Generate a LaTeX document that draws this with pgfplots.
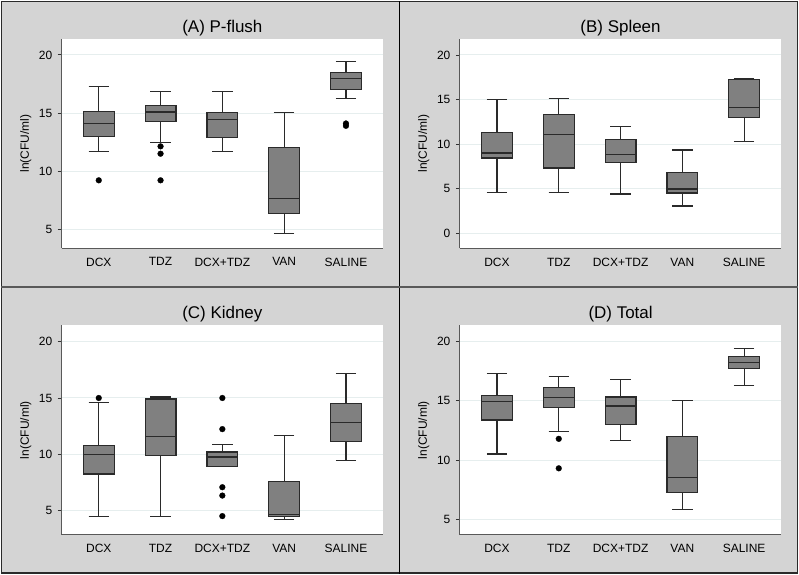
\documentclass[border=0pt]{standalone}
\usepackage{fontspec}
\setmainfont{Liberation Sans}
\usepackage{pgfplots}
\pgfplotsset{compat=1.18}
\usepgfplotslibrary{statistics}
\definecolor{bg}{HTML}{D4D4D4}
\definecolor{boxc}{HTML}{808080}
\definecolor{gridc}{HTML}{E6EEEE}
\definecolor{edge}{HTML}{2A2A2A}
\pgfplotsset{
  panel/.style={
    anchor=south west, scale only axis, width=322pt, height=210pt,
    axis background/.style={fill=white},
    xmin=0.4, xmax=5.6, xtick={1,2,3,4,5},
    xticklabels={DCX,TDZ,DCX+TDZ,VAN,SALINE},
    major x tick style={draw=none},
    axis x line*=bottom, axis y line*=left,
    axis line style={draw=black!65, line width=1pt, -},
    ytick style={draw=black!80, line width=0.9pt},
    tick align=outside, major tick length=4pt,
    ymajorgrids, grid style={color=gridc, line width=1pt},
    /pgf/number format/assume math mode=true,
    tick label style={font=\fontsize{12}{14}\selectfont},
    yticklabel style={xshift=-2pt},
    xticklabel style={yshift=-2pt},
    ylabel={ln(CFU/ml)},
    ylabel style={font=\fontsize{12}{14}\selectfont, at={(axis description cs:-0.112,0.5)}, anchor=center},
    title style={font=\fontsize{17}{20}\selectfont, at={(axis description cs:0.5,1)}, anchor=center, yshift=5pt},
    boxplot/draw direction=y,
    boxplot/box extend=0.5, boxplot/whisker extend=0.33,
    clip=false,
  },
  bx/.style={fill=boxc, draw=edge, line width=1.2pt, mark=*, mark size=2.9pt, mark options={fill=black, draw=black, line width=0.3pt}},
}
\begin{document}
\begin{tikzpicture}
\fill[bg] (0pt,0pt) rectangle (799pt,574pt);
\draw[edge, line width=1.5pt] (0.75pt,0.75pt) rectangle (798.25pt,573.25pt);
\draw[black, line width=1.4pt] (399.5pt,0pt) -- (399.5pt,574pt);
\draw[black!65, line width=1.6pt] (0pt,287pt) -- (799pt,287pt);

% (A) P-flush
\begin{axis}[panel, at={(61pt,326pt)}, ymin=3.37, ymax=21.4, ytick={5,10,15,20}, title={(A) P-flush}]
\addplot[bx, boxplot prepared={draw position=1, lower whisker=11.70, lower quartile=13.01, median=14.13, upper quartile=15.13, upper whisker=17.28}] coordinates {(0,9.21)};
\addplot[bx, boxplot prepared={draw position=2, lower whisker=12.47, lower quartile=14.30, median=15.08, upper quartile=15.68, upper whisker=16.82}] coordinates {(0,12.13) (0,11.50) (0,9.21)};
\addplot[bx, boxplot prepared={draw position=3, lower whisker=11.67, lower quartile=12.90, median=14.42, upper quartile=15.02, upper whisker=16.82}] coordinates {};
\addplot[bx, boxplot prepared={draw position=4, lower whisker=4.63, lower quartile=6.34, median=7.66, upper quartile=12.04, upper whisker=15.02}] coordinates {};
\addplot[bx, boxplot prepared={draw position=5, lower whisker=16.25, lower quartile=16.99, median=17.94, upper quartile=18.51, upper whisker=19.43}] coordinates {(0,14.10) (0,13.90)};
\end{axis}

% (B) Spleen
\begin{axis}[panel, at={(460pt,325.7pt)}, ymin=-1.68, ymax=21.8, ytick={0,5,10,15,20}, title={(B) Spleen}]
\addplot[bx, boxplot prepared={draw position=1, lower whisker=4.62, lower quartile=8.45, median=9.01, upper quartile=11.36, upper whisker=15.01}] coordinates {};
\addplot[bx, boxplot prepared={draw position=2, lower whisker=4.58, lower quartile=7.34, median=11.06, upper quartile=13.30, upper whisker=15.12}] coordinates {};
\addplot[bx, boxplot prepared={draw position=3, lower whisker=4.43, lower quartile=7.93, median=8.83, upper quartile=10.54, upper whisker=11.99}] coordinates {};
\addplot[bx, boxplot prepared={draw position=4, lower whisker=3.09, lower quartile=4.54, median=4.99, upper quartile=6.82, upper whisker=9.35}] coordinates {};
\addplot[bx, boxplot prepared={draw position=5, lower whisker=10.28, lower quartile=13.00, median=14.15, upper quartile=17.21, upper whisker=17.32}] coordinates {};
\end{axis}

% (C) Kidney
\begin{axis}[panel, at={(61pt,38.7pt)}, ymin=2.86, ymax=21.44, ytick={5,10,15,20}, title={(C) Kidney}]
\addplot[bx, boxplot prepared={draw position=1, lower whisker=4.50, lower quartile=8.26, median=10.00, upper quartile=10.82, upper whisker=14.59}] coordinates {(0,15.0)};
\addplot[bx, boxplot prepared={draw position=2, lower whisker=4.50, lower quartile=9.88, median=11.59, upper quartile=14.91, upper whisker=15.09}] coordinates {};
\addplot[bx, boxplot prepared={draw position=3, lower whisker=8.94, lower quartile=8.94, median=9.76, upper quartile=10.21, upper whisker=10.91}] coordinates {(0,15.0) (0,12.24) (0,7.09) (0,6.35) (0,4.53)};
\addplot[bx, boxplot prepared={draw position=4, lower whisker=4.24, lower quartile=4.50, median=4.68, upper quartile=7.62, upper whisker=11.65}] coordinates {};
\addplot[bx, boxplot prepared={draw position=5, lower whisker=9.44, lower quartile=11.12, median=12.82, upper quartile=14.53, upper whisker=17.15}] coordinates {};
\end{axis}

% (D) Total
\begin{axis}[panel, at={(460pt,38.7pt)}, ymin=3.72, ymax=21.34, ytick={5,10,15,20}, title={(D) Total}]
\addplot[bx, boxplot prepared={draw position=1, lower whisker=10.52, lower quartile=13.39, median=14.95, upper quartile=15.43, upper whisker=17.27}] coordinates {};
\addplot[bx, boxplot prepared={draw position=2, lower whisker=12.44, lower quartile=14.42, median=15.26, upper quartile=16.12, upper whisker=17.02}] coordinates {(0,11.80) (0,9.32)};
\addplot[bx, boxplot prepared={draw position=3, lower whisker=11.64, lower quartile=13.03, median=14.56, upper quartile=15.32, upper whisker=16.77}] coordinates {};
\addplot[bx, boxplot prepared={draw position=4, lower whisker=5.84, lower quartile=7.29, median=8.57, upper quartile=11.97, upper whisker=15.04}] coordinates {};
\addplot[bx, boxplot prepared={draw position=5, lower whisker=16.29, lower quartile=17.71, median=18.19, upper quartile=18.72, upper whisker=19.39}] coordinates {};
\end{axis}
\end{tikzpicture}
\end{document}
